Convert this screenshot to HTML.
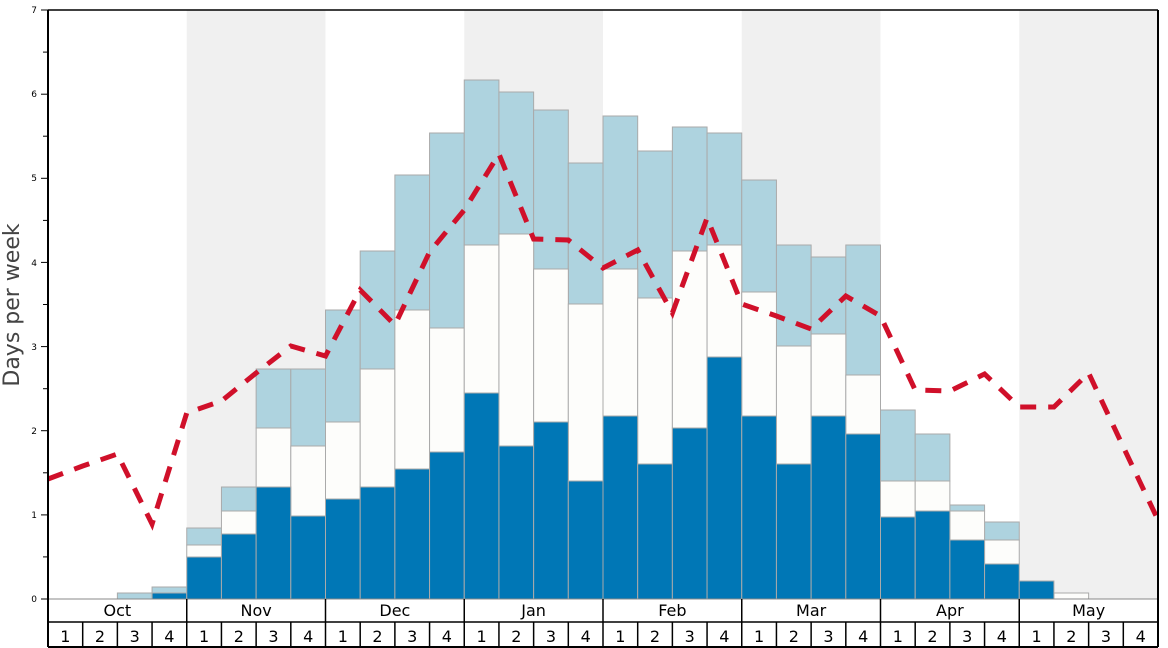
<!DOCTYPE html><html><head><style>body{margin:0;background:#fff}svg{display:block;font-family:"DejaVu Sans","Liberation Sans",sans-serif}</style></head><body>
<svg width="1168" height="648" xmlns="http://www.w3.org/2000/svg">
<g fill="#f0f0f0">
<rect x="186.75" y="10" width="138.75" height="589"/>
<rect x="464.25" y="10" width="138.75" height="589"/>
<rect x="741.75" y="10" width="138.75" height="589"/>
<rect x="1019.25" y="10" width="138.75" height="589"/>
</g>
<g stroke="#aaa" stroke-width="1">
<g fill="#aed3df">
<rect x="117.38" y="593" width="34.69" height="6"/>
<rect x="152.06" y="587" width="34.69" height="6"/>
<rect x="186.75" y="528" width="34.69" height="17"/>
<rect x="221.44" y="487" width="34.69" height="24"/>
<rect x="256.13" y="369" width="34.69" height="59"/>
<rect x="290.81" y="369" width="34.69" height="77"/>
<rect x="325.5" y="310" width="34.69" height="112"/>
<rect x="360.19" y="251" width="34.69" height="118"/>
<rect x="394.88" y="175" width="34.69" height="135"/>
<rect x="429.56" y="133" width="34.69" height="195"/>
<rect x="464.25" y="80" width="34.69" height="165"/>
<rect x="498.94" y="92" width="34.69" height="142"/>
<rect x="533.63" y="110" width="34.69" height="159"/>
<rect x="568.31" y="163" width="34.69" height="141"/>
<rect x="603" y="116" width="34.69" height="153"/>
<rect x="637.69" y="151" width="34.69" height="147"/>
<rect x="672.38" y="127" width="34.69" height="124"/>
<rect x="707.06" y="133" width="34.69" height="112"/>
<rect x="741.75" y="180" width="34.69" height="112"/>
<rect x="776.44" y="245" width="34.69" height="101"/>
<rect x="811.13" y="257" width="34.69" height="77"/>
<rect x="845.81" y="245" width="34.69" height="130"/>
<rect x="880.5" y="410" width="34.69" height="71"/>
<rect x="915.19" y="434" width="34.69" height="47"/>
<rect x="949.88" y="505" width="34.69" height="6"/>
<rect x="984.56" y="522" width="34.69" height="18"/>
</g>
<g fill="#fdfdfb">
<rect x="186.75" y="545" width="34.69" height="12"/>
<rect x="221.44" y="511" width="34.69" height="23"/>
<rect x="256.13" y="428" width="34.69" height="59"/>
<rect x="290.81" y="446" width="34.69" height="70"/>
<rect x="325.5" y="422" width="34.69" height="77"/>
<rect x="360.19" y="369" width="34.69" height="118"/>
<rect x="394.88" y="310" width="34.69" height="159"/>
<rect x="429.56" y="328" width="34.69" height="124"/>
<rect x="464.25" y="245" width="34.69" height="148"/>
<rect x="498.94" y="234" width="34.69" height="212"/>
<rect x="533.63" y="269" width="34.69" height="153"/>
<rect x="568.31" y="304" width="34.69" height="177"/>
<rect x="603" y="269" width="34.69" height="147"/>
<rect x="637.69" y="298" width="34.69" height="166"/>
<rect x="672.38" y="251" width="34.69" height="177"/>
<rect x="707.06" y="245" width="34.69" height="112"/>
<rect x="741.75" y="292" width="34.69" height="124"/>
<rect x="776.44" y="346" width="34.69" height="118"/>
<rect x="811.13" y="334" width="34.69" height="82"/>
<rect x="845.81" y="375" width="34.69" height="59"/>
<rect x="880.5" y="481" width="34.69" height="36"/>
<rect x="915.19" y="481" width="34.69" height="30"/>
<rect x="949.88" y="511" width="34.69" height="29"/>
<rect x="984.56" y="540" width="34.69" height="24"/>
<rect x="1053.94" y="593" width="34.69" height="6"/>
</g>
<g fill="#0077b6">
<rect x="152.06" y="593" width="34.69" height="6"/>
<rect x="186.75" y="557" width="34.69" height="42"/>
<rect x="221.44" y="534" width="34.69" height="65"/>
<rect x="256.13" y="487" width="34.69" height="112"/>
<rect x="290.81" y="516" width="34.69" height="83"/>
<rect x="325.5" y="499" width="34.69" height="100"/>
<rect x="360.19" y="487" width="34.69" height="112"/>
<rect x="394.88" y="469" width="34.69" height="130"/>
<rect x="429.56" y="452" width="34.69" height="147"/>
<rect x="464.25" y="393" width="34.69" height="206"/>
<rect x="498.94" y="446" width="34.69" height="153"/>
<rect x="533.63" y="422" width="34.69" height="177"/>
<rect x="568.31" y="481" width="34.69" height="118"/>
<rect x="603" y="416" width="34.69" height="183"/>
<rect x="637.69" y="464" width="34.69" height="135"/>
<rect x="672.38" y="428" width="34.69" height="171"/>
<rect x="707.06" y="357" width="34.69" height="242"/>
<rect x="741.75" y="416" width="34.69" height="183"/>
<rect x="776.44" y="464" width="34.69" height="135"/>
<rect x="811.13" y="416" width="34.69" height="183"/>
<rect x="845.81" y="434" width="34.69" height="165"/>
<rect x="880.5" y="517" width="34.69" height="82"/>
<rect x="915.19" y="511" width="34.69" height="88"/>
<rect x="949.88" y="540" width="34.69" height="59"/>
<rect x="984.56" y="564" width="34.69" height="35"/>
<rect x="1019.25" y="581" width="34.69" height="18"/>
</g>
</g>
<polyline fill="none" stroke="#d0102a" stroke-width="5" stroke-dasharray="16,12" points="48,479 82.69,466 117.38,454 152.06,524 186.75,413 221.44,401 256.13,373 290.81,346 325.5,356 360.19,290 394.88,325 429.56,252 464.25,210 498.94,154 533.63,239 568.31,240 603,268 637.69,250 672.38,313 707.06,218 741.75,304 776.44,316 811.13,329 845.81,296 880.5,316 915.19,390 949.88,391 984.56,374 1019.25,407 1053.94,407 1088.63,373 1123.31,447 1158,520"/>
<g stroke="#000">
<line x1="48" y1="599" x2="1158" y2="599" stroke="#888"/>
<line x1="48" y1="10" x2="1158" y2="10" stroke-width="1.5"/>
<line x1="48" y1="10" x2="48" y2="647" stroke-width="2"/>
<line x1="1158" y1="10" x2="1158" y2="647" stroke-width="2"/>
<line x1="48" y1="622" x2="1158" y2="622" stroke-width="1.5"/>
<line x1="48" y1="647" x2="1158" y2="647" stroke-width="2"/>
<line x1="41" y1="599" x2="48" y2="599"/><line x1="43" y1="556.9" x2="48" y2="556.9"/>
<line x1="41" y1="514.9" x2="48" y2="514.9"/><line x1="43" y1="472.8" x2="48" y2="472.8"/>
<line x1="41" y1="430.7" x2="48" y2="430.7"/><line x1="43" y1="388.7" x2="48" y2="388.7"/>
<line x1="41" y1="346.6" x2="48" y2="346.6"/><line x1="43" y1="304.5" x2="48" y2="304.5"/>
<line x1="41" y1="262.4" x2="48" y2="262.4"/><line x1="43" y1="220.4" x2="48" y2="220.4"/>
<line x1="41" y1="178.3" x2="48" y2="178.3"/><line x1="43" y1="136.2" x2="48" y2="136.2"/>
<line x1="41" y1="94.2" x2="48" y2="94.2"/><line x1="43" y1="52.1" x2="48" y2="52.1"/>
<line x1="41" y1="10" x2="48" y2="10"/>
<g stroke-width="1.5">
<line x1="186.75" y1="599" x2="186.75" y2="647"/><line x1="325.5" y1="599" x2="325.5" y2="647"/>
<line x1="464.25" y1="599" x2="464.25" y2="647"/><line x1="603" y1="599" x2="603" y2="647"/>
<line x1="741.75" y1="599" x2="741.75" y2="647"/><line x1="880.5" y1="599" x2="880.5" y2="647"/>
<line x1="1019.25" y1="599" x2="1019.25" y2="647"/>
<line x1="82.69" y1="622" x2="82.69" y2="647"/><line x1="117.38" y1="622" x2="117.38" y2="647"/><line x1="152.06" y1="622" x2="152.06" y2="647"/>
<line x1="221.44" y1="622" x2="221.44" y2="647"/><line x1="256.13" y1="622" x2="256.13" y2="647"/><line x1="290.81" y1="622" x2="290.81" y2="647"/>
<line x1="360.19" y1="622" x2="360.19" y2="647"/><line x1="394.88" y1="622" x2="394.88" y2="647"/><line x1="429.56" y1="622" x2="429.56" y2="647"/>
<line x1="498.94" y1="622" x2="498.94" y2="647"/><line x1="533.63" y1="622" x2="533.63" y2="647"/><line x1="568.31" y1="622" x2="568.31" y2="647"/>
<line x1="637.69" y1="622" x2="637.69" y2="647"/><line x1="672.38" y1="622" x2="672.38" y2="647"/><line x1="707.06" y1="622" x2="707.06" y2="647"/>
<line x1="776.44" y1="622" x2="776.44" y2="647"/><line x1="811.13" y1="622" x2="811.13" y2="647"/><line x1="845.81" y1="622" x2="845.81" y2="647"/>
<line x1="915.19" y1="622" x2="915.19" y2="647"/><line x1="949.88" y1="622" x2="949.88" y2="647"/><line x1="984.56" y1="622" x2="984.56" y2="647"/>
<line x1="1053.94" y1="622" x2="1053.94" y2="647"/><line x1="1088.63" y1="622" x2="1088.63" y2="647"/><line x1="1123.31" y1="622" x2="1123.31" y2="647"/>
</g>
</g>
<g font-size="9" text-anchor="end">
<text x="37" y="602">0</text><text x="37" y="518">1</text><text x="37" y="434">2</text><text x="37" y="350">3</text>
<text x="37" y="266">4</text><text x="37" y="181">5</text><text x="37" y="97">6</text><text x="37" y="13">7</text>
</g>
<g font-size="16" text-anchor="middle">
<text x="117.38" y="616">Oct</text><text x="256.13" y="616">Nov</text><text x="394.88" y="616">Dec</text><text x="533.63" y="616">Jan</text>
<text x="672.38" y="616">Feb</text><text x="811.13" y="616">Mar</text><text x="949.88" y="616">Apr</text><text x="1088.63" y="616">May</text>
<text x="65.3" y="642">1</text><text x="100" y="642">2</text><text x="134.7" y="642">3</text><text x="169.4" y="642">4</text>
<text x="204.1" y="642">1</text><text x="238.8" y="642">2</text><text x="273.5" y="642">3</text><text x="308.2" y="642">4</text>
<text x="342.8" y="642">1</text><text x="377.5" y="642">2</text><text x="412.2" y="642">3</text><text x="446.9" y="642">4</text>
<text x="481.6" y="642">1</text><text x="516.3" y="642">2</text><text x="551" y="642">3</text><text x="585.7" y="642">4</text>
<text x="620.3" y="642">1</text><text x="655" y="642">2</text><text x="689.7" y="642">3</text><text x="724.4" y="642">4</text>
<text x="759.1" y="642">1</text><text x="793.8" y="642">2</text><text x="828.5" y="642">3</text><text x="863.2" y="642">4</text>
<text x="897.8" y="642">1</text><text x="932.5" y="642">2</text><text x="967.2" y="642">3</text><text x="1001.9" y="642">4</text>
<text x="1036.6" y="642">1</text><text x="1071.3" y="642">2</text><text x="1106" y="642">3</text><text x="1140.7" y="642">4</text>
</g>
<text transform="translate(19,305) rotate(-90)" font-size="22" fill="#444" text-anchor="middle">Days per week</text>
</svg></body></html>
